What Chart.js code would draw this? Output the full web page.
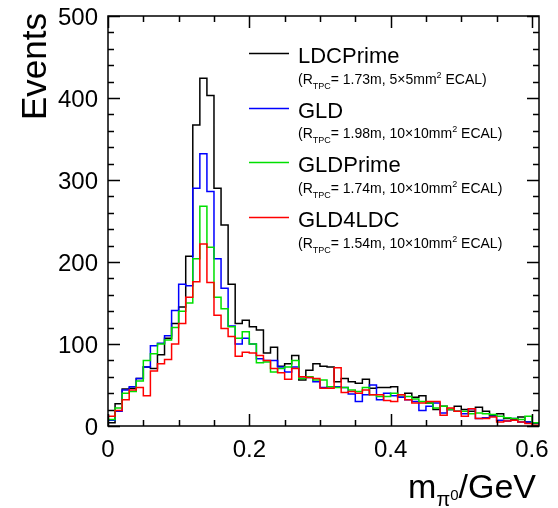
<!DOCTYPE html>
<html>
<head>
<meta charset="utf-8">
<script src="https://cdn.jsdelivr.net/npm/chart.js@4.4.0/dist/chart.umd.min.js"></script>
<style>
html, body { margin: 0; padding: 0; background: #fff; }
#wrap { width: 558px; height: 508px; }
</style>
</head>
<body>
<div id="wrap"><canvas id="chart" width="558" height="508"></canvas></div>
<script>
// histogram bins of 0.01 GeV from 0 to 0.61
const binWidth = 0.01;
const xMax = 0.61;
const yMax = 500;

const ldcPrime = [4, 27, 45, 46, 58, 72, 70, 87, 107, 125,
    145, 207, 367, 424, 403, 290, 245, 173, 125, 129,
    121, 117, 89, 96, 73, 76, 86, 56, 68, 76,
    73, 72, 54, 58, 54, 52, 57, 46, 47, 47,
    48, 35, 40, 35, 37, 28, 20, 24, 20, 24,
    20, 18, 23, 18, 13, 15, 9, 8, 11, 5, 3];
const gld = [7, 18, 44, 48, 58, 72, 98, 101, 110, 141,
    173, 171, 290, 332, 286, 204, 168, 122, 100, 107,
    100, 82, 80, 80, 72, 66, 72, 60, 59, 54,
    47, 48, 48, 47, 39, 30, 38, 50, 32, 40,
    37, 35, 32, 30, 19, 24, 28, 16, 20, 18,
    15, 21, 9, 10, 12, 7, 6, 9, 5, 5, 4];
const gldPrime = [8, 22, 40, 42, 55, 80, 88, 100, 105, 120,
    140, 150, 204, 268, 218, 157, 143, 121, 107, 115,
    100, 77, 78, 66, 70, 72, 80, 58, 60, 56,
    56, 48, 47, 47, 44, 42, 47, 38, 36, 36,
    40, 38, 36, 33, 30, 28, 22, 24, 20, 18,
    18, 15, 16, 15, 14, 12, 10, 9, 8, 12, 4];
const gld4ldc = [12, 19, 32, 44, 47, 37, 67, 76, 81, 100,
    125, 157, 176, 222, 175, 135, 119, 109, 85, 90,
    89, 86, 80, 70, 65, 57, 70, 60, 59, 58,
    46, 46, 71, 41, 42, 40, 44, 38, 38, 31,
    30, 38, 32, 28, 28, 30, 30, 13, 22, 18,
    12, 21, 9, 9, 11, 5, 6, 7, 5, 3, 1];

const seriesNames = ['LDCPrime', 'GLD', 'GLDPrime', 'GLD4LDC'];
const seriesRadius = ['1.73m', '1.98m', '1.74m', '1.54m'];
const seriesCell = ['5\u00d75mm', '10\u00d710mm', '10\u00d710mm', '10\u00d710mm'];
const seriesColors = ['#000000', '#0000ff', '#00e000', '#ff0000'];

const yLabels = [0, 100, 200, 300, 400, 500];
const xLabels = [0, 0.2, 0.4, 0.6];

const FONT = '"Liberation Sans", Arial, sans-serif';

// turn bin contents into step points (lower edges + closing edge)
function toSteps(values) {
    const pts = [{ x: 0, y: 0 }];
    values.forEach((v, i) => pts.push({ x: i * binWidth, y: v }));
    pts.push({ x: values.length * binWidth, y: values[values.length - 1] });
    return pts;
}

const allSeries = [ldcPrime, gld, gldPrime, gld4ldc];

const framePlugin = {
    id: 'frame',
    afterDatasetsDraw(chart) {
        const ctx = chart.ctx;
        const a = chart.chartArea;
        const xs = chart.scales.x, ys = chart.scales.y;
        ctx.save();
        ctx.strokeStyle = '#000';
        ctx.fillStyle = '#000';
        ctx.lineWidth = 1.5;
        ctx.strokeRect(a.left, a.top, a.right - a.left, a.bottom - a.top);

        // y ticks on both sides
        ctx.beginPath();
        for (let v = 0; v <= yMax; v += 20) {
            const y = Math.round(ys.getPixelForValue(v)) + 0.5;
            const len = v % 100 === 0 ? 12 : 6;
            ctx.moveTo(a.left, y); ctx.lineTo(a.left + len, y);
            ctx.moveTo(a.right, y); ctx.lineTo(a.right - len, y);
        }
        // x ticks bottom and top
        for (let k = 0; k <= 12; k++) {
            const v = k * 0.05;
            const x = Math.round(xs.getPixelForValue(v)) + 0.5;
            const len = k % 4 === 0 ? 12 : 6;
            ctx.moveTo(x, a.bottom); ctx.lineTo(x, a.bottom - len);
            ctx.moveTo(x, a.top); ctx.lineTo(x, a.top + len);
        }
        ctx.stroke();

        // tick labels
        ctx.font = '24px ' + FONT;
        ctx.textAlign = 'right';
        ctx.textBaseline = 'middle';
        yLabels.forEach(v => ctx.fillText(String(v), 98, ys.getPixelForValue(v) + 2));
        ctx.textAlign = 'center';
        ctx.textBaseline = 'alphabetic';
        xLabels.forEach(v => ctx.fillText(String(v), xs.getPixelForValue(v), 457));

        // y title
        ctx.save();
        ctx.translate(46, 13);
        ctx.rotate(-Math.PI / 2);
        ctx.font = '35px ' + FONT;
        ctx.textAlign = 'right';
        ctx.fillText('Events', 0, 0);
        ctx.restore();

        // x title m_{pi^0}/GeV, right aligned
        ctx.textAlign = 'left';
        const big = '34px ' + FONT, sub = '20px ' + FONT, sup = '15px ' + FONT;
        ctx.font = big;
        const wM = ctx.measureText('m').width, wG = ctx.measureText('/GeV').width;
        ctx.font = sub;
        const wPi = ctx.measureText('\u03c0').width;
        ctx.font = sup;
        const wZ = ctx.measureText('0').width;
        let x = 536 - (wM + wPi + wZ + wG);
        const base = 498;
        ctx.font = big; ctx.fillText('m', x, base); x += wM;
        ctx.font = sub; ctx.fillText('\u03c0', x, base + 8); x += wPi;
        ctx.font = sup; ctx.fillText('0', x, base + 2); x += wZ;
        ctx.font = big; ctx.fillText('/GeV', x, base);

        // legend
        seriesNames.forEach((name, i) => {
            const b = 63 + i * 54.7;
            ctx.strokeStyle = seriesColors[i];
            ctx.lineWidth = 1.5;
            ctx.beginPath();
            ctx.moveTo(249, Math.round(b - 10) + 0.5);
            ctx.lineTo(289, Math.round(b - 10) + 0.5);
            ctx.stroke();
            ctx.fillStyle = '#000';
            ctx.font = '22px ' + FONT;
            ctx.fillText(name, 298, b);

            const sb = b + 20.5;
            let sx = 298;
            const parts = [
                ['(R', '14px', 0],
                ['TPC', '9px', 5],
                ['= ' + seriesRadius[i] + ', ' + seriesCell[i], '14px', 0],
                ['2', '9px', -6],
                [' ECAL)', '14px', 0]
            ];
            parts.forEach(p => {
                ctx.font = p[1] + ' ' + FONT;
                ctx.fillText(p[0], sx, sb + p[2]);
                sx += ctx.measureText(p[0]).width;
            });
        });
        ctx.restore();
    }
};

new Chart(document.getElementById('chart'), {
    type: 'line',
    data: {
        datasets: allSeries.map((vals, i) => ({
            label: seriesNames[i],
            data: toSteps(vals),
            borderColor: seriesColors[i],
            borderWidth: 1.5,
            stepped: 'before',
            fill: false,
            pointRadius: 0,
            order: 4 - i
        }))
    },
    options: {
        responsive: false,
        animation: false,
        devicePixelRatio: 1,
        layout: { padding: { left: 108, right: 19, top: 16, bottom: 82 } },
        plugins: { legend: { display: false }, tooltip: { enabled: false } },
        scales: {
            x: { type: 'linear', min: 0, max: xMax, display: false },
            y: { min: 0, max: yMax, display: false }
        }
    },
    plugins: [framePlugin]
});
</script>
</body>
</html>
